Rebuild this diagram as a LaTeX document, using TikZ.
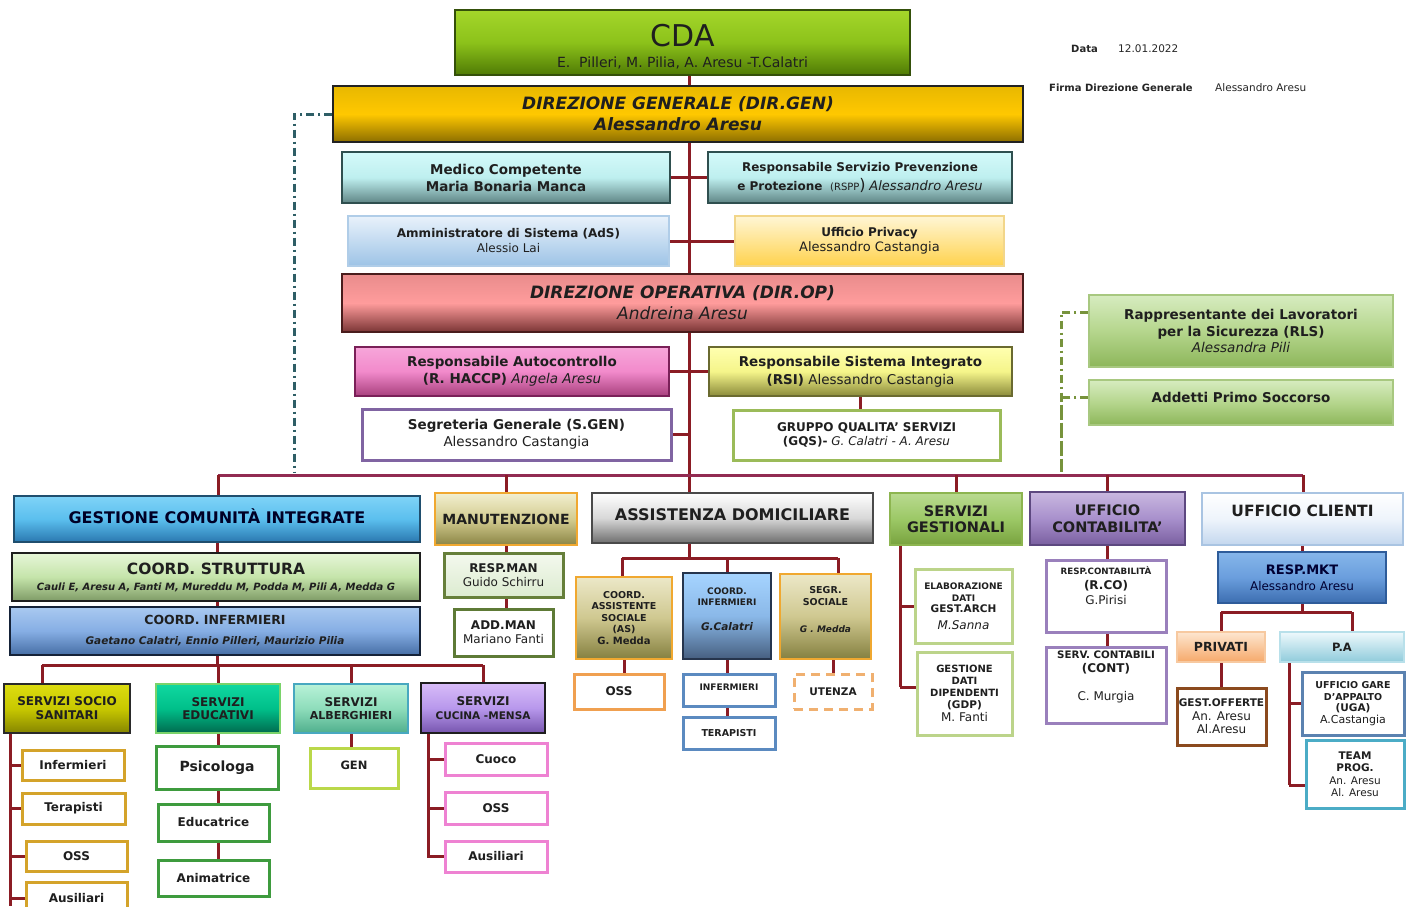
\documentclass[tikz,border=0pt]{standalone}
\usepackage{fontspec}
\setmainfont{DejaVu Sans}
\usetikzlibrary{backgrounds,calc}
\definecolor{linkc}{HTML}{8B1C24}
\definecolor{busc}{HTML}{922B52}
\definecolor{ddlc}{HTML}{2E5E66}
\definecolor{ddrc}{HTML}{77933C}
\newcommand\fs[2]{\fontsize{#1}{#2}\selectfont}
\newcommand\obox[7]{\node[#6, minimum width={(#4-#2)*1pt}, minimum height={(#5-#3)*1pt}] (#1) at ({(#2+#4)/2},{(#3+#5)/2}) {#7};}
\begin{document}
\begin{tikzpicture}[x=1pt,y=-1pt,
  bx/.style={inner sep=1pt, align=center, text=black!88},
  gb/.style n args={3}{/utils/exec={\definecolor{cT}{HTML}{#1}\definecolor{cB}{HTML}{#2}\definecolor{cD}{HTML}{#3}}, bx, top color=cT, bottom color=cB, draw=cD, line width=1.2pt},
  gm/.style n args={4}{/utils/exec={\definecolor{cT}{HTML}{#1}\definecolor{cM}{HTML}{#2}\definecolor{cB}{HTML}{#3}\definecolor{cD}{HTML}{#4}}, bx, top color=cT, bottom color=cB, middle color=cM, draw=cD, line width=1.2pt},
  wb/.style={/utils/exec={\definecolor{cD}{HTML}{#1}}, bx, fill=white, draw=cD, line width=3pt},
  lk/.style={draw=linkc, line width=3pt},
  busline/.style={draw=busc, line width=3pt},
  ddt/.style={line width=3pt, dash pattern=on 8pt off 4pt on 2pt off 4pt},
  lbl/.style={inner sep=0pt, anchor=west, font=\fs{10.5}{12}, text=black!85}
]
\useasboundingbox (0,0) rectangle (1410,907);

% ---------- top ----------
\obox{cda}{455}{10}{910}{75}{gm={A4D62A}{8CC21A}{4F7A05}{34500A}, font=\fs{14}{21}}{{\fs{30}{32}\rule{0pt}{30pt}CDA}\\E.\ \ Pilleri, M. Pilia, A. Aresu -T.Calatri}
\node[lbl, font=\bfseries\fs{10}{12}] (dlab) at (1071,49) {Data};
\node[lbl] (dval) at (1118,49) {12.01.2022};
\node[lbl, font=\bfseries\fs{10}{12}] (flab) at (1049,88) {Firma Direzione Generale};
\node[lbl] (fval) at (1215,88) {Alessandro Aresu};

\obox{dirgen}{333}{86}{1023}{142}{gm={E8B800}{FFC800}{8C6E00}{222222}, font=\bfseries\itshape\fs{17}{21}}{DIREZIONE GENERALE (DIR.GEN)\\Alessandro Aresu}
\obox{medico}{342}{152}{670}{203}{gm={D4FAFA}{BEEFEF}{5F8585}{2F4F4F}, font=\bfseries\fs{13.5}{17}}{Medico Competente\\Maria Bonaria Manca}
\obox{rspp}{708}{152}{1012}{203}{gm={D4FAFA}{BEEFEF}{5F8585}{2F4F4F}, font=\fs{12}{19}}{\textbf{Responsabile Servizio Prevenzione}\\\textbf{e Protezione}\ \ {\fs{10}{12}(RSPP}{\fs{16}{16})} {\itshape\fs{13}{15}Alessandro Aresu}}
\obox{ads}{348}{216}{669}{266}{gb={E9F2FB}{9DC3E6}{B0CDE8}, font=\fs{12}{15}}{\textbf{Amministratore di Sistema (AdS)}\\Alessio Lai}
\obox{privacy}{735}{216}{1004}{266}{gb={FFF6D5}{FFD24D}{F2D68A}, font=\fs{13}{15}}{{\bfseries\fs{12}{14}Ufficio Privacy}\\Alessandro Castangia}
\obox{dirop}{342}{274}{1023}{332}{gm={E98C8C}{FF9C9C}{7A3535}{4A1C1C}, font=\fs{17}{21}}{{\bfseries\itshape DIREZIONE OPERATIVA (DIR.OP)}\\{\itshape Andreina Aresu}}
\obox{haccp}{355}{347}{669}{396}{gm={F7A6DA}{F28ACB}{A8407D}{7A2058}, font=\fs{13.5}{17}}{\textbf{Responsabile Autocontrollo}\\\textbf{(R. HACCP)} {\itshape Angela Aresu}}
\obox{rsi}{709}{347}{1012}{396}{gm={FFFFB0}{F5F58A}{8A8A3A}{6A6A30}, font=\fs{13.5}{18}}{\textbf{Responsabile Sistema Integrato}\\\textbf{(RSI)} Alessandro Castangia}
\obox{sgen}{362}{409}{671}{460}{wb=8064A2, font=\fs{13.5}{17}}{\textbf{Segreteria Generale (S.GEN)}\\Alessandro Castangia}
\obox{gqs}{733}{410}{1000}{460}{wb=9BBB59, font=\fs{12}{14}}{\textbf{GRUPPO QUALITA’ SERVIZI}\\\textbf{(GQS)-} {\itshape G. Calatri - A. Aresu}}
\obox{rls}{1089}{295}{1393}{367}{gm={D7ECC0}{B5D68D}{8DB65A}{A8C880}, font=\fs{13.5}{16.5}}{\textbf{Rappresentante dei Lavoratori}\\\textbf{per la Sicurezza (RLS)}\\{\itshape Alessandra Pili}}
\obox{aps}{1089}{380}{1393}{425}{gm={D7ECC0}{B5D68D}{8DB65A}{A8C880}, font=\bfseries\fs{13.5}{16}}{\raisebox{10pt}{Addetti Primo Soccorso}}

% ---------- level 2 ----------
\obox{gci}{14}{496}{420}{542}{gm={7FD3F7}{5BBFEE}{2A78B0}{1F4E6E}, font=\bfseries\fs{16}{18}, text=black!85!blue}{\raisebox{6pt}{GESTIONE COMUNITÀ INTEGRATE}}
\obox{manut}{435}{493}{577}{545}{gm={F2EFD0}{D3CC90}{8B8545}{F0A830}, font=\bfseries\fs{14}{16}}{MANUTENZIONE}
\obox{assdom}{592}{493}{873}{543}{gm={FFFFFF}{D8D8D8}{6E6E6E}{4A4A4A}, font=\bfseries\fs{16}{18}}{\raisebox{6pt}{ASSISTENZA DOMICILIARE}}
\obox{servgest}{890}{493}{1022}{545}{gm={B9DA90}{9CC866}{78A23E}{8DB550}, font=\bfseries\fs{14.5}{16}}{SERVIZI\\GESTIONALI}
\obox{uffcont}{1030}{492}{1185}{545}{gm={C9B8E0}{A890CC}{7A5FA0}{5D4880}, font=\bfseries\fs{14.5}{16.5}}{UFFICIO\\CONTABILITA’}
\obox{uffcli}{1202}{493}{1403}{545}{gm={FFFFFF}{EEF4FB}{C3D7EE}{A9C4E2}, font=\bfseries\fs{15.5}{18}}{\raisebox{16pt}{UFFICIO CLIENTI}}

% ---------- GCI branch ----------
\obox{coordstr}{12}{553}{420}{601}{gm={E6F6D8}{C5E4AA}{7E9B66}{1E1E1E}, font=\fs{15.5}{16}}{\textbf{COORD. STRUTTURA}\\{\bfseries\itshape\fs{10}{12}Cauli E, Aresu A, Fanti M, Mureddu M, Podda M, Pili A, Medda G}}
\obox{coordinf}{10}{607}{420}{655}{gm={A9C9F0}{86AEE4}{466EA5}{152238}, font=\fs{12.5}{20}}{\textbf{COORD. INFERMIERI}\\{\bfseries\itshape\fs{10.5}{12}Gaetano Calatri, Ennio Pilleri, Maurizio Pilia}}
\obox{sss}{4}{684}{130}{733}{gm={DDDD10}{C8C800}{858500}{2A2A2A}, font=\bfseries\fs{12}{14}}{SERVIZI SOCIO\\SANITARI}
\obox{sed}{156}{684}{280}{733}{gm={10D8A0}{00C08A}{006A4E}{7AD36A}, font=\bfseries\fs{12}{13.5}}{SERVIZI\\EDUCATIVI}
\obox{salb}{294}{684}{408}{733}{gm={B8F2D8}{8EDDBB}{4FAE8C}{48A8C0}, font=\bfseries\fs{12}{13.5}}{SERVIZI\\{\fs{11}{12}ALBERGHIERI}}
\obox{scuc}{421}{683}{545}{733}{gm={D8BCF8}{B898EC}{7655AE}{1E1E1E}, font=\bfseries\fs{12}{13.5}}{SERVIZI\\{\fs{10.5}{12}CUCINA -MENSA}}
\obox{inf1}{22}{750}{124}{780}{wb=D4A32A, font=\bfseries\fs{12}{14}}{Infermieri}
\obox{ter1}{22}{793}{125}{824}{wb=D4A32A, font=\bfseries\fs{12}{14}}{Terapisti}
\obox{oss1}{26}{841}{127}{871}{wb=D4A32A, font=\bfseries\fs{12}{14}}{OSS}
\obox{aus1}{26}{882}{127}{914}{wb=D4A32A, font=\bfseries\fs{12}{14}}{Ausiliari}
\obox{psic}{156}{746}{278}{789}{wb=3E9B3E, font=\bfseries\fs{14}{16}}{Psicologa}
\obox{educ}{158}{804}{269}{841}{wb=3E9B3E, font=\bfseries\fs{12}{14}}{Educatrice}
\obox{anim}{158}{860}{269}{896}{wb=3E9B3E, font=\bfseries\fs{12}{14}}{Animatrice}
\obox{gen}{310}{748}{398}{788}{wb=BAD84A, font=\bfseries\fs{11.5}{14}}{\raisebox{6pt}{GEN}}
\obox{cuoco}{445}{743}{547}{775}{wb=EE82D2, font=\bfseries\fs{12}{14}}{Cuoco}
\obox{oss2}{445}{792}{547}{824}{wb=EE82D2, font=\bfseries\fs{12}{14}}{OSS}
\obox{aus2}{445}{841}{547}{872}{wb=EE82D2, font=\bfseries\fs{12}{14}}{Ausiliari}

% ---------- manutenzione ----------
\obox{respman}{444}{553}{563}{597}{gb={F4F9EE}{DCEBD0}{667F3A}, line width=3pt, font=\fs{12}{14}}{\textbf{RESP.MAN}\\Guido Schirru}
\obox{addman}{454}{609}{553}{656}{wb=5E7A36, font=\fs{12}{14}}{\textbf{ADD.MAN}\\Mariano Fanti}

% ---------- assistenza domiciliare ----------
\obox{coordas}{576}{577}{672}{659}{gm={ECE8C8}{CFC890}{858040}{F0A830}, font=\bfseries\fs{9.5}{11.5}}{COORD.\\ASSISTENTE\\SOCIALE\\(AS)\\{\fs{10}{12}G. Medda}}
\obox{coordinf2}{683}{573}{771}{659}{gm={A6D4FF}{8AB8E8}{465F80}{26354D}, font=\bfseries\fs{9}{11}}{COORD.\\INFERMIERI\\[14pt]{\itshape\fs{10.5}{12}G.Calatri}\\[2pt]}
\obox{segsoc}{780}{574}{871}{659}{gm={ECE8C8}{CFC890}{858040}{F0A830}, font=\bfseries\fs{9.5}{11.5}}{SEGR.\\SOCIALE\\[16pt]{\itshape\fs{9}{11}G . Medda}\\[2pt]}
\obox{oss3}{574}{674}{664}{709}{wb=F0A050, font=\bfseries\fs{12}{14}}{OSS}
\obox{inf3}{683}{674}{775}{706}{wb=5B8AC0, font=\bfseries\fs{9}{11}}{\raisebox{6pt}{INFERMIERI}}
\obox{ter3}{683}{717}{775}{749}{wb=5B8AC0, font=\bfseries\fs{9.5}{11}}{TERAPISTI}
\obox{utenza}{794}{674}{872}{709}{wb=F0B070, dashed, dash pattern=on 9pt off 6pt, font=\bfseries\fs{10.5}{12}}{UTENZA}

% ---------- servizi gestionali ----------
\obox{elab}{915}{569}{1012}{643}{wb=BCD48A, font=\bfseries\fs{9}{11.5}}{ELABORAZIONE\\DATI\\{\fs{10.5}{12}GEST.ARCH}\\[5pt]{\mdseries\itshape\fs{12}{14}M.Sanna}}
\obox{gdp}{917}{652}{1012}{735}{wb=BCD48A, font=\bfseries\fs{10}{12}}{GESTIONE\\DATI\\DIPENDENTI\\{\fs{10.5}{12}(GDP)}\\[1pt]{\mdseries\fs{12}{14}M. Fanti}}

% ---------- contabilita ----------
\obox{rco}{1046}{560}{1166}{632}{wb=9A80BC, font=\fs{12}{15}}{{\bfseries\fs{8.7}{10}RESP.CONTABILITÀ}\\{\bfseries(R.CO)}\\G.Pirisi\\[6pt]}
\obox{cont}{1046}{647}{1166}{723}{wb=9A80BC, font=\fs{12}{14}}{{\bfseries\fs{10.3}{12}SERV. CONTABILI}\\\textbf{(CONT)}\\[14pt]C. Murgia\\[4pt]}

% ---------- clienti ----------
\obox{respmkt}{1218}{552}{1386}{603}{gm={86B6EA}{6A9EDD}{3C6DB0}{2E5C9A}, font=\fs{12}{16}, text=black!80!blue}{{\bfseries\fs{13}{15}RESP.MKT}\\Alessandro Aresu}
\obox{privati}{1177}{632}{1265}{662}{gb={FDE6D0}{F6A96A}{F7C9A0}, font=\bfseries\fs{12.5}{14}}{PRIVATI}
\obox{pa}{1280}{632}{1404}{662}{gb={EEF9FC}{8FCBDB}{B8E0EA}, font=\bfseries\fs{11.5}{14}}{P.A}
\obox{gestoff}{1177}{688}{1266}{745}{wb=8B4A1E, font=\fs{12}{13.5}}{{\bfseries\fs{10.5}{12}GEST.OFFERTE}\\An. Aresu\\Al.Aresu}
\obox{uga}{1302}{672}{1404}{735}{wb=5B82B0, font=\fs{9.5}{11.5}}{\textbf{UFFICIO GARE}\\\textbf{D’APPALTO}\\{\bfseries\fs{10.5}{12}(UGA)}\\{\fs{11}{12}A.Castangia}}
\obox{team}{1306}{740}{1404}{808}{wb=4BACC6, font=\fs{10.5}{12.5}}{\textbf{TEAM}\\\textbf{PROG.}\\An. Aresu\\Al. Aresu}

% ---------- connectors ----------
\begin{scope}[on background layer]
\fill[white] (0,0) rectangle (1410,907);
\coordinate (tx) at (689,0);
\coordinate (bl) at (218,475);
\coordinate (br) at (1303,475);
\draw[lk] (cda.south -| tx) -- (assdom.north -| tx);
\draw[lk] (medico.east) -- (rspp.west);
\draw[lk] (ads.east) -- (privacy.west);
\draw[lk] (haccp.east) -- (rsi.west);
\draw[lk] (sgen.east) -- (sgen.east -| tx);
\draw[lk] (rsi.south) -- (rsi.south |- gqs.north);
\draw[busline] (bl) -- (br);
\draw[lk] (bl) -- (bl |- gci.north);
\draw[lk] (manut.north) -- (manut.north |- bl);
\draw[lk] (servgest.north) -- (servgest.north |- bl);
\draw[lk] (uffcont.north) -- (uffcont.north |- bl);
\draw[lk] (br) -- (br |- uffcli.north);
% left dash-dot
\coordinate (dl) at (294,472);
\draw[ddt, draw=ddlc] (dirgen.west) -| (dl);
% right dash-dot
\coordinate (dr) at (1061,472);
\draw[ddt, draw=ddrc] ($(rls.west)+(0,-19)$) -| (dr);
\draw[ddt, draw=ddrc] ($(aps.west)+(0,-5)$) -| (dr);
% GCI
\coordinate (sb1) at (42,665);
\coordinate (sb2) at (483,665);
\draw[lk] (gci.south) -- (gci.south |- sb1);
\draw[lk] (sb1) -- (sb2);
\draw[lk] (sb1) -- (sb1 |- sss.north);
\draw[lk] (sed.north) -- (sed.north |- sb1);
\draw[lk] (salb.north) -- (salb.north |- sb1);
\draw[lk] (sb2) -- (sb2 |- scuc.north);
\coordinate (v1) at (10,906);
\draw[lk] (sss.south -| v1) -- (v1);
\foreach \n in {inf1,ter1,oss1,aus1} \draw[lk] (\n.west) -- (\n.west -| v1);
\draw[lk] (sed.south) -- (sed.south |- anim.north);
\draw[lk] (salb.south) -- (salb.south |- gen.north);
\coordinate (v2) at (428,858);
\draw[lk] (scuc.south -| v2) -- (v2);
\foreach \n in {cuoco,oss2,aus2} \draw[lk] (\n.west) -- (\n.west -| v2);
% manutenzione
\draw[lk] (manut.south) -- (manut.south |- addman.north);
% assistenza
\coordinate (ab1) at (622,558);
\coordinate (ab2) at (838,558);
\draw[lk] (assdom.south -| tx) -- (tx |- ab1);
\draw[lk] (ab1) -- (ab2);
\draw[lk] (ab1) -- (ab1 |- coordas.north);
\draw[lk] (coordinf2.north) -- (coordinf2.north |- ab1);
\draw[lk] (ab2) -- (ab2 |- segsoc.north);
\draw[lk] (coordas.south) -- (coordas.south |- oss3.north);
\draw[lk] (coordinf2.south) -- (coordinf2.south |- ter3.north);
\draw[lk] (utenza.north) -- (utenza.north |- segsoc.south);
% servizi gestionali
\coordinate (v3) at (900,687);
\draw[lk] (servgest.south -| v3) -- (v3);
\draw[lk] (elab.west) -- (elab.west -| v3);
\draw[lk] (v3) -- (v3 -| gdp.west);
% contabilita
\draw[lk] (uffcont.south) -- (uffcont.south |- cont.north);
% clienti
\coordinate (cb1) at (1221,612);
\coordinate (cb2) at (1352,612);
\draw[lk] (uffcli.south) -- (uffcli.south |- cb1);
\draw[lk] (cb1) -- (cb2);
\draw[lk] (privati.north) -- (privati.north |- cb1);
\draw[lk] (cb2) -- (cb2 |- pa.north);
\draw[lk] (privati.south) -- (privati.south |- gestoff.north);
\coordinate (v4) at (1289,785);
\draw[lk] (pa.south -| v4) -- (v4);
\draw[lk] (v4 |- uga.west) -- (uga.west);
\draw[lk] (v4) -- (v4 -| team.west);
\end{scope}
\end{tikzpicture}
\end{document}
